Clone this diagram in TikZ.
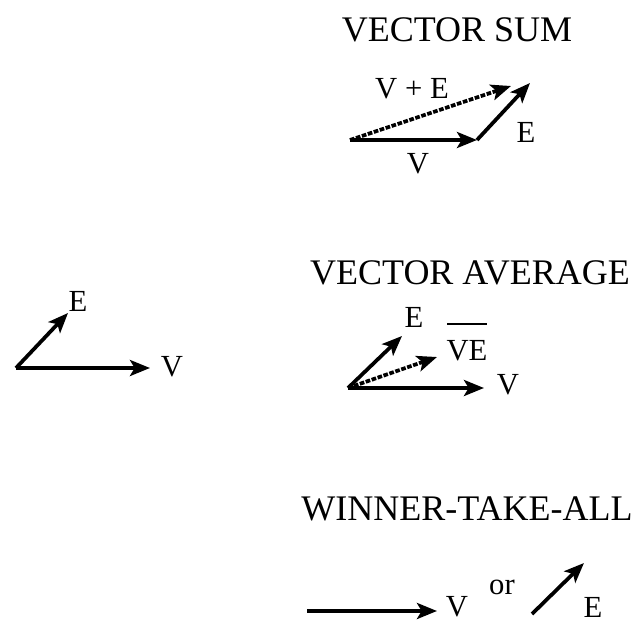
\documentclass[tikz,border=0pt]{standalone}
\usepackage{fontspec}
\setmainfont{Liberation Serif}
\usetikzlibrary{arrows.meta,positioning}

\begin{document}
\begin{tikzpicture}[
    x=0.75pt, y=-0.75pt,
    vec/.style={line width=2.8pt, -{Stealth[length=15pt,width=12pt,inset=3.5pt]}},
    avg/.style={vec, dash pattern=on 3.5pt off 1.2pt},
    lbl/.style={inner sep=0pt, font=\fontsize{23}{27}\selectfont},
    ttl/.style={inner sep=0pt, font=\fontsize{27}{32}\selectfont}
  ]
  \useasboundingbox (0,0) rectangle (644,625);

  % Inputs
  \coordinate (o0) at (16,368);
  \coordinate (v0) at (150,368);
  \coordinate (e0) at (68,313);
  \draw[vec] (o0) -- (v0);
  \draw[vec] (o0) -- (e0);
  \node[lbl] (v0lbl) at (172,367) {V};
  \node[lbl] (e0lbl) at (78,301) {E};

  % Vector sum
  \node[ttl] (sumttl) at (457,30) {VECTOR SUM};
  \coordinate (o1) at (350,140);
  \coordinate (v1) at (477,140);
  \coordinate (e1) at (530,83);
  \coordinate (s1) at (511,86);
  \draw[avg] (o1) -- (s1);
  \draw[vec] (o1) -- (v1);
  \draw[vec] (v1) -- (e1);
  \node[lbl] (s1lbl) at (412,89) {V + E};
  \node[lbl] (e1lbl) at (526,132) {E};
  \node[lbl] (v1lbl) at (418,164) {V};

  % Vector average
  \node[ttl] (avgttl) at (470,273) {VECTOR AVERAGE};
  \coordinate (o2) at (348,388);
  \coordinate (v2) at (484,388);
  \coordinate (e2) at (402,336);
  \coordinate (a2) at (437,357);
  \draw[vec] (o2) -- (v2);
  \draw[vec] (o2) -- (e2);
  \draw[avg] (o2) -- (a2);
  \node[lbl] (e2lbl) at (414,317) {E};
  \node[lbl, align=center] (a2lbl) at (467,342) {\rule{30pt}{1.6pt}\\VE};
  \node[lbl] (v2lbl) at (508,385) {V};

  % Winner-take-all
  \node[ttl] (wtattl) at (467,509) {WINNER-TAKE-ALL};
  \coordinate (o3) at (307,611);
  \coordinate (v3) at (437,611);
  \coordinate (o4) at (532,614);
  \coordinate (e4) at (584,563);
  \draw[vec] (o3) -- (v3);
  \draw[vec] (o4) -- (e4);
  \node[lbl] (v3lbl) at (457,607) {V};
  \node[lbl] (orlbl) at (502,587) {or};
  \node[lbl] (e4lbl) at (593,607) {E};

\end{tikzpicture}
\end{document}
